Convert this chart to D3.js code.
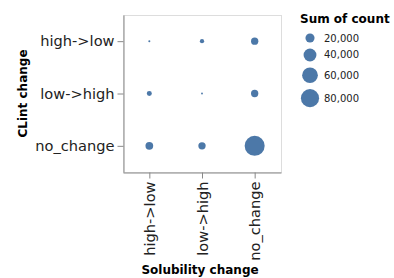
<!DOCTYPE html>
<html>
<head>
<meta charset="utf-8">
<script src="https://cdn.jsdelivr.net/npm/d3@7"></script>
<style>
  body { margin: 0; background: #fff; }
  text { font-family: "DejaVu Sans", sans-serif; }
</style>
</head>
<body>
<div class="chart"></div>
<script>
// categories + sum of count per cell
const solubility = ['high->low', 'low->high', 'no_change'];
const clint = ['high->low', 'low->high', 'no_change'];
const cellSolubility = ['high->low', 'high->low', 'high->low', 'low->high', 'low->high', 'low->high', 'no_change', 'no_change', 'no_change'];
const cellClint      = ['high->low', 'low->high', 'no_change', 'high->low', 'low->high', 'no_change', 'high->low', 'low->high', 'no_change'];
const cellCount      = [1000, 6000, 14500, 4500, 800, 13000, 13000, 13000, 97000];
const legendValues = [20000, 40000, 60000, 80000];

const data = cellCount.map((c, i) => ({ sol: cellSolubility[i], cl: cellClint[i], count: c }));

const W = 394, H = 278;
const plot = { left: 123, right: 281, top: 15, bottom: 172 };
const blue = '#4c78a8';

const svg = d3.select('.chart')
  .append('svg')
    .attr('width', W)
    .attr('height', H);

const xScale = d3.scalePoint()
  .domain(solubility)
  .range([plot.left, plot.right])
  .padding(0.5);

const yScale = d3.scalePoint()
  .domain(clint)
  .range([plot.top, plot.bottom])
  .padding(0.5);

const rScale = d3.scaleSqrt()
  .domain([0, d3.max(cellCount)])
  .range([0, 10]);

// view frame
svg.append('rect')
  .attr('x', plot.left + 0.5)
  .attr('y', plot.top + 0.5)
  .attr('width', plot.right - plot.left)
  .attr('height', plot.bottom - plot.top)
  .attr('fill', 'none')
  .attr('stroke', '#ddd');

// y axis
const yAxis = svg.append('g')
  .attr('transform', `translate(${plot.left + 0.5}, 0)`)
  .call(d3.axisLeft(yScale).tickSize(6).tickSizeOuter(0).tickPadding(3));
yAxis.selectAll('text')
  .style('font-size', '14.6px')
  .attr('fill', '#222');

// x axis
const xAxis = svg.append('g')
  .attr('transform', `translate(0, ${plot.bottom + 0.5})`)
  .call(d3.axisBottom(xScale).tickSize(6).tickSizeOuter(0));
xAxis.selectAll('text')
  .style('font-size', '14.6px')
  .attr('fill', '#222')
  .attr('text-anchor', 'end')
  .attr('transform', 'rotate(-90)')
  .attr('x', -9)
  .attr('y', 0)
  .attr('dy', '0.35em');

svg.selectAll('.domain, .tick line').attr('stroke', '#888');

// axis titles
svg.append('text')
  .attr('x', (plot.left + plot.right) / 2 - 2)
  .attr('y', 274)
  .attr('text-anchor', 'middle')
  .style('font-size', '12px')
  .style('font-weight', 'bold')
  .text('Solubility change');

svg.append('text')
  .attr('transform', `translate(27, ${(plot.top + plot.bottom) / 2}) rotate(-90)`)
  .attr('text-anchor', 'middle')
  .style('font-size', '12px')
  .style('font-weight', 'bold')
  .text('CLint change');

// circles
svg.selectAll('.ball')
  .data(data)
  .enter()
  .append('circle')
    .attr('class', 'ball')
    .attr('cx', d => xScale(d.sol))
    .attr('cy', d => yScale(d.cl))
    .attr('r', d => rScale(d.count))
    .attr('fill', blue);

// legend
const legend = svg.append('g');
legend.append('text')
  .attr('x', 300)
  .attr('y', 23)
  .style('font-size', '12px')
  .style('font-weight', 'bold')
  .text('Sum of count');

let yPos = 38 - rScale(legendValues[0]);
legendValues.forEach(v => {
  const r = rScale(v);
  const cy = yPos + r;
  legend.append('circle')
    .attr('cx', 310)
    .attr('cy', cy)
    .attr('r', r)
    .attr('fill', blue);
  legend.append('text')
    .attr('x', 324)
    .attr('y', cy)
    .attr('dy', '0.35em')
    .style('font-size', '10px')
    .attr('fill', '#222')
    .text(d3.format(',')(v));
  yPos = cy + r + 6;
});
</script>
</body>
</html>
